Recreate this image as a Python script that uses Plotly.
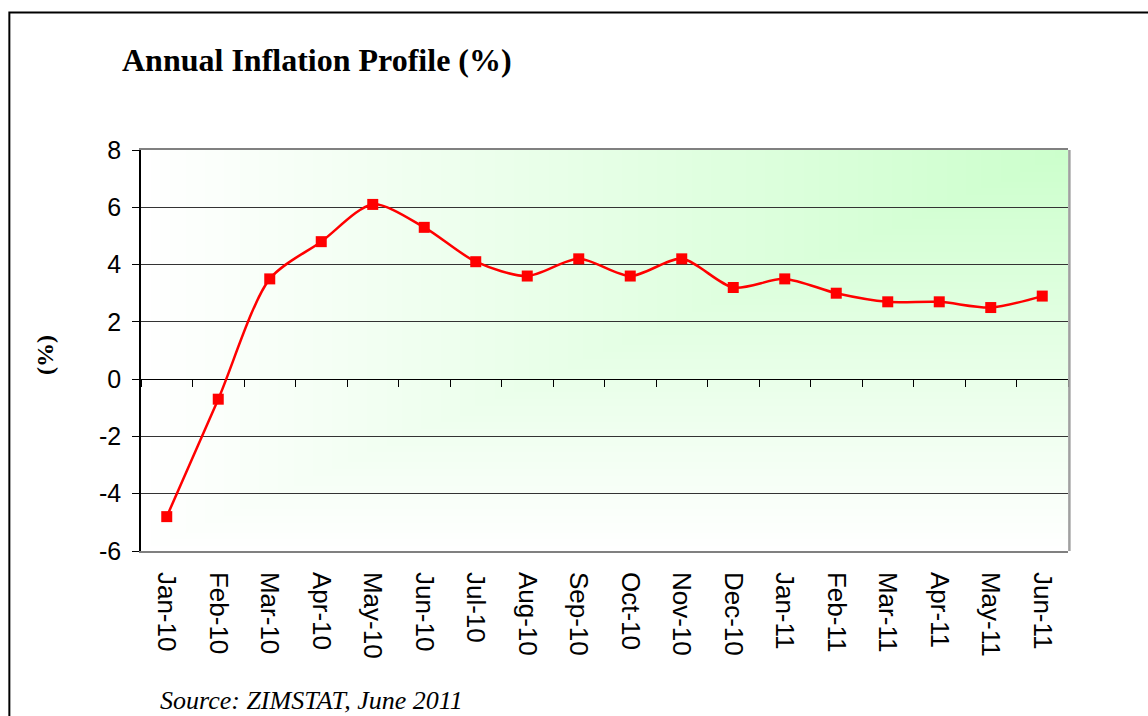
import base64
import struct
import zlib

import plotly.graph_objects as go

# ---- data ----
months = ["Jan-10", "Feb-10", "Mar-10", "Apr-10", "May-10", "Jun-10", "Jul-10",
          "Aug-10", "Sep-10", "Oct-10", "Nov-10", "Dec-10", "Jan-11", "Feb-11",
          "Mar-11", "Apr-11", "May-11", "Jun-11"]
inflation = [-4.8, -0.7, 3.5, 4.8, 6.1, 5.3, 4.1, 3.6, 4.2, 3.6, 4.2, 3.2,
             3.5, 3.0, 2.7, 2.7, 2.5, 2.9]
y_ticks = [-6, -4, -2, 0, 2, 4, 6, 8]
y_ticktext = ["-6", "-4", "-2", "0", "2", "4", "6", "8"]

# ---- gradient background image (white bottom-left -> light green top-right) ----
def gradient_png(w, h):
    raw = bytearray()
    for j in range(h):
        v = 1 - j / (h - 1)          # 1 at top
        raw.append(0)
        for i in range(w):
            u = i / (w - 1)          # 1 at right
            t = min(u, v)
            r = round(255 - 51 * t)
            raw += bytes((r, 255, r))
    def chunk(tag, data):
        c = struct.pack(">I", len(data)) + tag + data
        return c + struct.pack(">I", zlib.crc32(tag + data) & 0xffffffff)
    png = b"\x89PNG\r\n\x1a\n"
    png += chunk(b"IHDR", struct.pack(">IIBBBBB", w, h, 8, 2, 0, 0, 0))
    png += chunk(b"IDAT", zlib.compress(bytes(raw), 9))
    png += chunk(b"IEND", b"")
    return "data:image/png;base64," + base64.b64encode(png).decode()

bg = gradient_png(240, 120)

fig = go.Figure()

fig.add_trace(go.Scatter(
    x=months, y=inflation, mode="lines+markers",
    line=dict(color="#FF0000", width=2.5, shape="spline", smoothing=0.8),
    marker=dict(symbol="square", size=11, color="#FF0000"),
    showlegend=False, hoverinfo="x+y",
))
# invisible copy on the overlay axis that carries the ticks on the zero line
fig.add_trace(go.Scatter(
    x=months, y=inflation, xaxis="x2", mode="lines", opacity=0,
    showlegend=False, hoverinfo="skip",
))

fig.update_layout(
    width=1148, height=716, autosize=False,
    margin=dict(l=141, r=80, t=150, b=165),
    paper_bgcolor="white", plot_bgcolor="rgba(0,0,0,0)",
    font=dict(family="Liberation Sans, Arial, sans-serif", color="black"),
    xaxis=dict(
        type="category", categoryarray=months, range=[-0.5, len(months) - 0.5],
        showgrid=False, zeroline=False, showline=True, linecolor="#808080",
        linewidth=1.5, mirror=True, ticks="", tickangle=90,
        tickfont=dict(size=26), ticklabelstandoff=14,
    ),
    xaxis2=dict(
        type="category", categoryarray=months, range=[-0.5, len(months) - 0.5],
        overlaying="x", anchor="free", position=6 / 14, side="bottom",
        showgrid=False, zeroline=False, showline=False, showticklabels=False,
        ticks="outside", tickson="boundaries", ticklen=7, tickcolor="black",
        tickwidth=1,
    ),
    yaxis=dict(
        range=[-6, 8], tickvals=y_ticks, ticktext=y_ticktext, showgrid=True,
        gridcolor="#333333", gridwidth=1, zeroline=True, zerolinecolor="black",
        zerolinewidth=1, showline=True, linecolor="black", linewidth=1.5,
        ticks="outside", ticklen=7, tickcolor="black", tickfont=dict(size=25),
        ticklabelstandoff=6,
    ),
    images=[dict(source=bg, xref="paper", yref="paper", x=0, y=1,
                 sizex=1, sizey=1, sizing="stretch", layer="below")],
    shapes=[
        dict(type="line", xref="paper", yref="paper", x0=1.0015, x1=1.0015,
             y0=0, y1=1, line=dict(color="#A0A0A0", width=2.5)),
        dict(type="rect", xref="paper", yref="paper",
             x0=(9.5 - 141) / 926, x1=(1165 - 141) / 926,
             y0=(551 - 730) / 401, y1=(551 - 12.5) / 401,
             line=dict(color="black", width=2), fillcolor="rgba(0,0,0,0)"),
    ],
    annotations=[
        dict(text="<b>Annual Inflation Profile (%)</b>", xref="paper", yref="paper",
             x=(120 - 141) / 926, y=(551 - 60) / 401, xanchor="left", yanchor="middle",
             showarrow=False, font=dict(family="Liberation Serif, Times New Roman, serif",
                                        size=32, color="black")),
        dict(text="<b>(%)</b>", xref="paper", yref="paper",
             x=(45 - 141) / 926, y=(551 - 355) / 401, xanchor="center", yanchor="middle",
             textangle=-90, showarrow=False,
             font=dict(family="Liberation Serif, Times New Roman, serif", size=24,
                       color="black")),
        dict(text="<i>Source: ZIMSTAT, June 2011</i>", xref="paper", yref="paper",
             x=(158 - 141) / 926, y=(551 - 700) / 401, xanchor="left", yanchor="middle",
             showarrow=False,
             font=dict(family="Liberation Serif, Times New Roman, serif", size=26,
                       color="black")),
    ],
)

fig.write_html(
    "out.html",
    config={"displayModeBar": False},
    post_script="document.body.style.margin='0';document.body.style.overflow='hidden';",
)
